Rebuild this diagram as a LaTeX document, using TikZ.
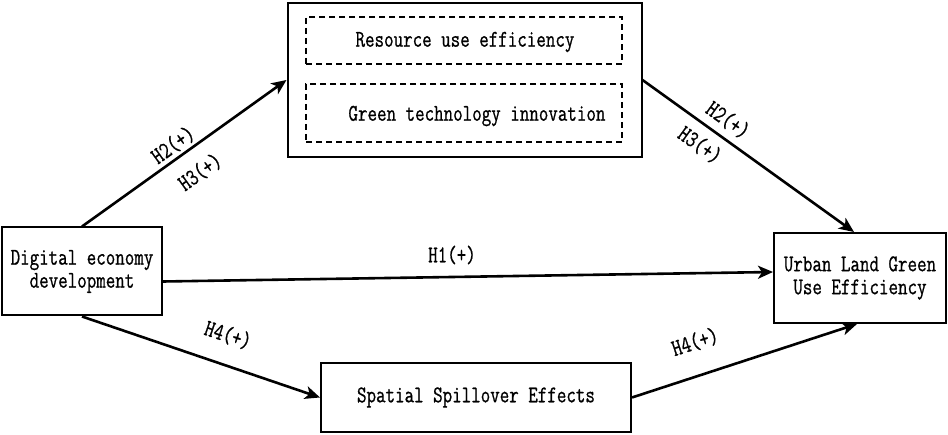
\documentclass[tikz,border=0pt]{standalone}
\usepackage{fontspec}
\newfontfamily\dfont{Latin Modern Mono}[FakeStretch=0.77,FakeBold=0.8]
\usetikzlibrary{arrows.meta,calc}
\begin{document}
\begin{tikzpicture}[x=1pt,y=-1pt,
  every node/.style={font=\fontsize{24}{23}\dfont},
  box/.style={draw,line width=2pt,inner sep=0pt,align=center},
  dbox/.style={draw,dashed,dash pattern=on 6pt off 4pt,line width=1.4pt,inner sep=0pt},
  conn/.style={line width=2.6pt,-{Stealth[length=15pt,width=13pt,inset=4pt]}},
  lab/.style={inner sep=0pt}]
\useasboundingbox (0,0) rectangle (948,435);
\node[box,minimum width=160pt,minimum height=88pt] (L) at (82,271.5) {Digital economy\\development};
\node[box,minimum width=354pt,minimum height=154pt] (T) at (464.5,80) {};
\node[dbox,minimum width=316pt,minimum height=47pt] (D1) at (464,40.5) {};
\node[lab] (t1) at (465,42) {Resource use efficiency};
\node[dbox,minimum width=316pt,minimum height=58pt] (D2) at (464,113) {};
\node[lab] (t2) at (477,116) {Green technology innovation};
\node[box,minimum width=172pt,minimum height=90pt] (R) at (860,278) {Urban Land Green\\Use Efficiency};
\node[box,minimum width=310pt,minimum height=69pt] (B) at (476,397.5) {Spatial Spillover Effects};
\draw[conn] (L.north) -- (T.west);
\draw[conn] (T.east) -- ($(R.north)+(-6,0)$);
\draw[conn] ($(L.east)+(0,10)$) -- ($(R.west)+(0,-6)$);
\draw[conn] (L.south) -- (B.west);
\draw[conn] (B.east) -- ($(R.south)+(-3,0)$);
\node[lab,rotate=35.6] (h2a) at (173,145) {H2(+)};
\node[lab,rotate=35.6] (h3a) at (200,172) {H3(+)};
\node[lab,rotate=-35.6] (h2b) at (728,120) {H2(+)};
\node[lab,rotate=-35.6] (h3b) at (700,145) {H3(+)};
\node[lab] (h1) at (452,255) {H1(+)};
\node[lab,rotate=-18.5] (h4a) at (228,335) {H4(+)};
\node[lab,rotate=18] (h4b) at (695,342) {H4(+)};
\end{tikzpicture}
\end{document}
